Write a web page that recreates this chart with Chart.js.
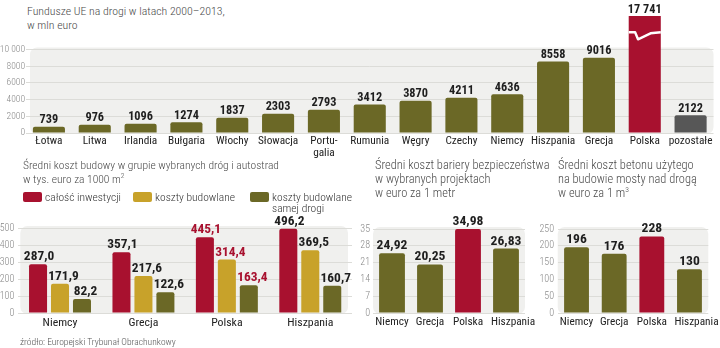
<!DOCTYPE html>
<html><head><meta charset="utf-8">
<script src="https://cdn.jsdelivr.net/npm/chart.js@4/dist/chart.umd.min.js"></script>
<style>
html,body{margin:0;padding:0;}
body{width:720px;height:348px;background:#fff;position:relative;overflow:hidden;font-family:'Roboto Condensed','Roboto',sans-serif;}
.c{position:absolute;}
.t{position:absolute;color:#4a4a4a;font-size:11.8px;line-height:14px;white-space:nowrap;font-weight:300;}
.lg{position:absolute;color:#333;font-size:11.5px;line-height:11px;white-space:nowrap;font-weight:300;}
.box{position:absolute;width:19px;height:10px;border-radius:2px;}
sup{font-size:7.5px;line-height:0;vertical-align:5px;}
.src{position:absolute;left:20px;top:336px;font-size:9.5px;color:#555;white-space:nowrap;font-weight:300;}
</style></head>
<body>
<div class="t" style="left:27px;top:4px;">Fundusze UE na drogi w latach 2000–2013,<br>w mln euro</div>
<div class="c" style="left:0;top:0;width:720px;height:170px;"><canvas id="cTop"></canvas></div>

<div class="t" style="left:23px;top:158px;font-size:11.5px;">Średni koszt budowy w grupie wybranych dróg i autostrad<br>w tys. euro za 1000 m<sup>2</sup></div>
<div class="box" style="left:23px;top:192px;background:#a8112f"></div>
<div class="lg" style="left:45px;top:192px;">całość inwestycji</div>
<div class="box" style="left:133px;top:192px;background:#c8a22a"></div>
<div class="lg" style="left:155px;top:192px;">koszty budowlane</div>
<div class="box" style="left:250px;top:192px;background:#6b6826"></div>
<div class="lg" style="left:272px;top:192px;">koszty budowlane<br>samej drogi</div>

<div class="t" style="left:375px;top:158px;font-size:12.4px;">Średni koszt bariery bezpieczeństwa<br>w wybranych projektach<br>w euro za 1 metr</div>
<div class="t" style="left:558px;top:158px;font-size:12.4px;">Średni koszt betonu użytego<br>na budowie mosty nad drogą<br>w euro za 1 m<sup>3</sup></div>

<div class="c" style="left:0;top:200px;width:360px;height:135px;"><canvas id="cCost"></canvas></div>
<div class="c" style="left:360px;top:200px;width:180px;height:135px;"><canvas id="cBarrier"></canvas></div>
<div class="c" style="left:540px;top:200px;width:180px;height:135px;"><canvas id="cConcrete"></canvas></div>
<div class="src">źródło: Europejski Trybunał Obrachunkowy</div>

<script>
// ---- DATA ----
const topCategories = ['Łotwa','Litwa','Irlandia','Bułgaria','Włochy','Słowacja',['Portu-','galia'],'Rumunia','Węgry','Czechy','Niemcy','Hiszpania','Grecja','Polska','pozostałe'];
const topValues = [739,976,1096,1274,1837,2303,2793,3412,3870,4211,4636,8558,9016,17741,2122];
const topTicks = [0,2000,4000,6000,8000,10000];

const costCategories = ['Niemcy','Grecja','Polska','Hiszpania'];
const costTotal = [287.0,357.1,445.1,496.2];
const costBuild = [171.9,217.6,314.4,369.5];
const costRoad = [82.2,122.6,163.4,160.7];
const costTicks = [0,100,200,300,400,500];

const barrierCategories = ['Niemcy','Grecja','Polska','Hiszpania'];
const barrierValues = [24.92,20.25,34.98,26.83];
const barrierTicks = [0,7,14,21,28,35];

const concreteCategories = ['Niemcy','Grecja','Polska','Hiszpania'];
const concreteValues = [196,176,228,130];
const concreteTicks = [0,50,100,150,200,250];

const legendLabels = ['całość inwestycji','koszty budowlane','koszty budowlane samej drogi'];

// ---- STYLE ----
const OLIVE='#6b6826', RED='#a8112f', GOLD='#c8a22a', GRAY='#575757';
const BG='#f0f0ee', GRID='#dcdcd8';
const FONT="'Roboto Condensed','Roboto',sans-serif";
Chart.defaults.font.family = FONT;
Chart.defaults.animation = false;

function plColor(cats, i, base){ const n = Array.isArray(cats[i])?cats[i].join(''):cats[i]; return n==='Polska'?RED:(n==='pozostałe'?GRAY:base); }

const plotBg = {
  id:'plotBg',
  beforeDraw(chart,args,opts){
    const {ctx,chartArea:a,scales}=chart;
    const top = scales.y.getPixelForValue(opts.topValue) - 2;
    const left = a.left + (opts.leftInset||0), right = a.right - (opts.rightInset||0);
    ctx.save(); ctx.fillStyle = BG; ctx.beginPath();
    ctx.roundRect(left, top, right-left, a.bottom-top+1, 7); ctx.fill(); ctx.restore();
    if (opts.lastLabelShift) {
      const items = chart.scales.x.getLabelItems();
      if (!items._shifted) { items[items.length-1].options.translation[0] += opts.lastLabelShift; items._shifted = true; }
    }
  }
};
const valueLabels = {
  id:'valueLabels',
  afterDatasetsDraw(chart,args,opts){
    const ctx=chart.ctx; ctx.save();
    ctx.font = opts.font; ctx.textAlign='center'; ctx.textBaseline='alphabetic';
    chart.data.datasets.forEach((ds,di)=>{
      const dx = opts.dx ? opts.dx[di] : 0;
      chart.getDatasetMeta(di).data.forEach((el,i)=>{
        const y = Math.max(el.y, chart.chartArea.top);
        ctx.fillStyle = opts.color(chart,di,i);
        ctx.fillText(opts.format(ds.data[i]), el.x + dx, y - opts.gap);
      });
    });
    ctx.restore();
  }
};
const breakMark = {
  id:'breakMark',
  afterDatasetsDraw(chart){
    if (!chart.options.plugins.breakMark || !chart.options.plugins.breakMark.on) return;
    const meta = chart.getDatasetMeta(0);
    chart.data.datasets[0].data.forEach((v,i)=>{
      if (v <= chart.scales.y.max) return;
      const el = meta.data[i], l = el.x - el.width/2, r = el.x + el.width/2, t = chart.chartArea.top, w = el.width;
      const ctx = chart.ctx; ctx.save();
      ctx.strokeStyle='#fff'; ctx.lineWidth=2.4; ctx.lineJoin='round';
      ctx.beginPath();
      ctx.moveTo(l, t+16.3); ctx.lineTo(l+w*0.2, t+16.3); ctx.lineTo(l+w*0.29, t+23.3);
      ctx.lineTo(l+w*0.68, t+17.3); ctx.lineTo(r, t+16.3); ctx.stroke(); ctx.restore();
    });
  }
};
Chart.register(plotBg, valueLabels, breakMark);

function yScale(ticks, max, width, pad, size){
  return {
    min:0, max:max,
    afterBuildTicks(s){ s.ticks = ticks.map(v=>({value:v})); },
    afterFit(s){ s.width = width; },
    grid:{color:GRID, drawTicks:false},
    border:{display:false},
    ticks:{color:'#888', font:{size:size, weight:'300'}, padding:pad,
      callback:(v)=> v>=10000 ? String(v).replace(/\B(?=(\d{3})+(?!\d))/g,' ') : String(v)}
  };
}
function xScale(height, size, pad){
  return {
    afterFit(s){ s.height = height; },
    grid:{display:false, drawTicks:false}, border:{display:false},
    ticks:{color:'#222', font:{size:size, lineHeight:1.0}, padding:pad, maxRotation:0, autoSkip:false}
  };
}
const fmtTop = v => v>=10000 ? String(v).replace(/\B(?=(\d{3})+(?!\d))/g,' ') : String(v);
const fmtDec = d => v => v.toFixed(d).replace('.',',');
const darkLabel = ()=> '#1e1e1e';
const common = {responsive:true, maintainAspectRatio:false, devicePixelRatio:1};

// ---- TOP CHART ----
new Chart(document.getElementById('cTop'), {
  type:'bar',
  data:{labels:topCategories, datasets:[{data:topValues,
    backgroundColor: topCategories.map((c,i)=>plColor(topCategories,i,OLIVE)),
    barPercentage:0.7, categoryPercentage:1, borderRadius:2}]},
  options:{...common,
    layout:{padding:{top:16,right:6.5,left:0,bottom:0}},
    scales:{x:xScale(37,11.3,3), y:yScale(topTicks,14000,26,1,9.5)},
    plugins:{legend:{display:false}, tooltip:{enabled:false}, breakMark:{on:true},
      plotBg:{topValue:10000, leftInset:4},
      valueLabels:{font:"bold 12.3px "+FONT, gap:3.5, format:fmtTop, color:darkLabel}}}
});

// ---- COST CHART ----
new Chart(document.getElementById('cCost'), {
  type:'bar',
  data:{labels:costCategories, datasets:[
    {label:legendLabels[0], data:costTotal, backgroundColor:RED},
    {label:legendLabels[1], data:costBuild, backgroundColor:GOLD},
    {label:legendLabels[2], data:costRoad, backgroundColor:OLIVE}]},
  options:{...common,
    datasets:{bar:{barPercentage:0.82, categoryPercentage:0.79, borderRadius:2}},
    layout:{padding:{top:28,right:8,left:0,bottom:0}},
    scales:{x:xScale(22,11.8,4), y:yScale(costTicks,500,18.3,4,10)},
    plugins:{legend:{display:false}, tooltip:{enabled:false},
      plotBg:{topValue:500, leftInset:2, rightInset:4},
      valueLabels:{font:"bold 13.4px "+FONT, gap:4, format:fmtDec(1), dx:[1,3.5,3.5],
        color:(ch,di,i)=> ch.data.labels[i]==='Polska'?RED:'#1e1e1e'}}}
});

// ---- BARRIER CHART ----
new Chart(document.getElementById('cBarrier'), {
  type:'bar',
  data:{labels:barrierCategories, datasets:[{data:barrierValues,
    backgroundColor: barrierCategories.map((c,i)=>plColor(barrierCategories,i,OLIVE)),
    barPercentage:0.68, categoryPercentage:1, borderRadius:2}]},
  options:{...common,
    layout:{padding:{top:29,right:15,left:0,bottom:0}},
    scales:{x:xScale(22,11.3,4), y:yScale(barrierTicks,35,13,3,10)},
    plugins:{legend:{display:false}, tooltip:{enabled:false},
      plotBg:{topValue:35, lastLabelShift:7},
      valueLabels:{font:"bold 13.6px "+FONT, gap:4, format:fmtDec(2), color:darkLabel}}}
});

// ---- CONCRETE CHART ----
new Chart(document.getElementById('cConcrete'), {
  type:'bar',
  data:{labels:concreteCategories, datasets:[{data:concreteValues,
    backgroundColor: concreteCategories.map((c,i)=>plColor(concreteCategories,i,OLIVE)),
    barPercentage:0.66, categoryPercentage:1, borderRadius:2}]},
  options:{...common,
    layout:{padding:{top:29,right:11.7,left:0,bottom:0}},
    scales:{x:xScale(22,11.3,4), y:yScale(concreteTicks,250,17.7,3.7,10)},
    plugins:{legend:{display:false}, tooltip:{enabled:false},
      plotBg:{topValue:250, lastLabelShift:7},
      valueLabels:{font:"bold 13.6px "+FONT, gap:4, format:fmtDec(0), color:darkLabel}}}
});
</script>
</body></html>
